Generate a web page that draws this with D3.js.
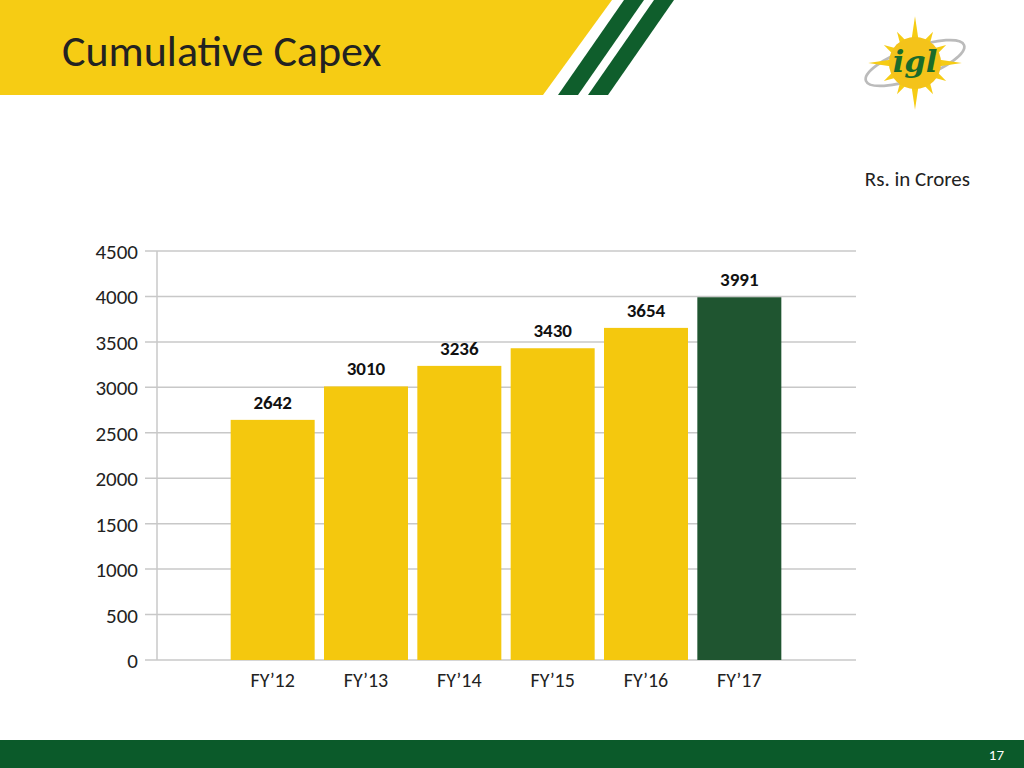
<!DOCTYPE html>
<html><head><meta charset="utf-8">
<script src="https://cdn.jsdelivr.net/npm/d3@7"></script>
<style>body{margin:0;background:#fff}svg{display:block;font-family:Carlito,"Liberation Sans Narrow","Open Sans",sans-serif}</style>
</head><body><div class="chart"></div>
<script>
const categories = ["FY\u201912", "FY\u201913", "FY\u201914", "FY\u201915", "FY\u201916", "FY\u201917"]
const values = [2642, 3010, 3236, 3430, 3654, 3991]
const yTicks = [0, 500, 1000, 1500, 2000, 2500, 3000, 3500, 4000, 4500]

const svg = d3.select(".chart").append("svg").attr("width", 1024).attr("height", 768)

// header
svg.append("polygon").attr("points", "0,0 612,0 543,95 0,95").attr("fill", "#f6cc14")
svg.append("polygon").attr("points", "624,0 644,0 578,95 558,95").attr("fill", "#0f5e2c")
svg.append("polygon").attr("points", "654,0 674,0 608,95 588,95").attr("fill", "#0f5e2c")
svg.append("text").attr("x", 62).attr("y", 66).attr("font-size", 44).attr("fill", "#222").text("Cumulative Capex")

// logo
const logo = svg.append("g").attr("transform", "translate(915,63) scale(0.9)")
logo.append("ellipse").attr("rx", 58).attr("ry", 17).attr("transform", "rotate(-20)")
    .attr("fill", "none").attr("stroke", "#bbb").attr("stroke-width", 3)
d3.range(12).forEach(i => {
    const a = i * Math.PI / 6, r = i % 3 === 0 ? 52 : 40
    logo.append("polygon")
        .attr("points", [[Math.cos(a) * r, Math.sin(a) * r], [Math.cos(a + 0.15) * 26, Math.sin(a + 0.15) * 26], [Math.cos(a - 0.15) * 26, Math.sin(a - 0.15) * 26]].join(" "))
        .attr("fill", "#f6cc14")
})
logo.append("circle").attr("r", 29).attr("fill", "#f4c31a")
logo.append("text").attr("y", 10).attr("text-anchor", "middle").attr("font-size", 34)
    .attr("font-family", "DejaVu Serif").attr("font-style", "italic").attr("font-weight", "bold").attr("fill", "#1a6b2a").text("igl")

svg.append("text").attr("x", 970).attr("y", 186).attr("text-anchor", "end").attr("font-size", 21).attr("fill", "#222").text("Rs. in Crores")

const x = d3.scaleBand().domain(categories).range([226, 786]).paddingInner(0.1).paddingOuter(0.05)
const y = d3.scaleLinear().domain([0, 4500]).range([660, 251])

svg.selectAll(".grid").data(yTicks).join("line")
    .attr("x1", 145).attr("x2", 856).attr("y1", d => y(d)).attr("y2", d => y(d))
    .attr("stroke", "#c8c8c8").attr("stroke-width", 1.5)
svg.append("line").attr("x1", 157).attr("x2", 157).attr("y1", 251).attr("y2", 660).attr("stroke", "#c8c8c8").attr("stroke-width", 1.5)
svg.selectAll(".yl").data(yTicks).join("text")
    .attr("x", 138).attr("y", d => y(d) + 8).attr("text-anchor", "end").attr("font-size", 21).attr("fill", "#222").text(d => d)

svg.selectAll(".bar").data(values).join("rect")
    .attr("x", (d, i) => x(categories[i])).attr("width", x.bandwidth())
    .attr("y", d => y(d)).attr("height", d => y(0) - y(d))
    .attr("fill", (d, i) => i === values.length - 1 ? "#1f5530" : "#f4c80e")
svg.selectAll(".vl").data(values).join("text")
    .attr("x", (d, i) => x(categories[i]) + x.bandwidth() / 2).attr("y", d => y(d) - 11)
    .attr("text-anchor", "middle").attr("font-size", 19).attr("font-weight", "bold").attr("fill", "#111").text(d => d)
svg.selectAll(".xl").data(categories).join("text")
    .attr("x", d => x(d) + x.bandwidth() / 2).attr("y", 687)
    .attr("text-anchor", "middle").attr("font-size", 20).attr("fill", "#222").text(d => d)

// footer
svg.append("rect").attr("x", 0).attr("y", 740).attr("width", 1024).attr("height", 28).attr("fill", "#0b5a2a")
svg.append("text").attr("x", 1004).attr("y", 760).attr("text-anchor", "end").attr("font-size", 15).attr("fill", "#fff").text("17")
</script></body></html>
